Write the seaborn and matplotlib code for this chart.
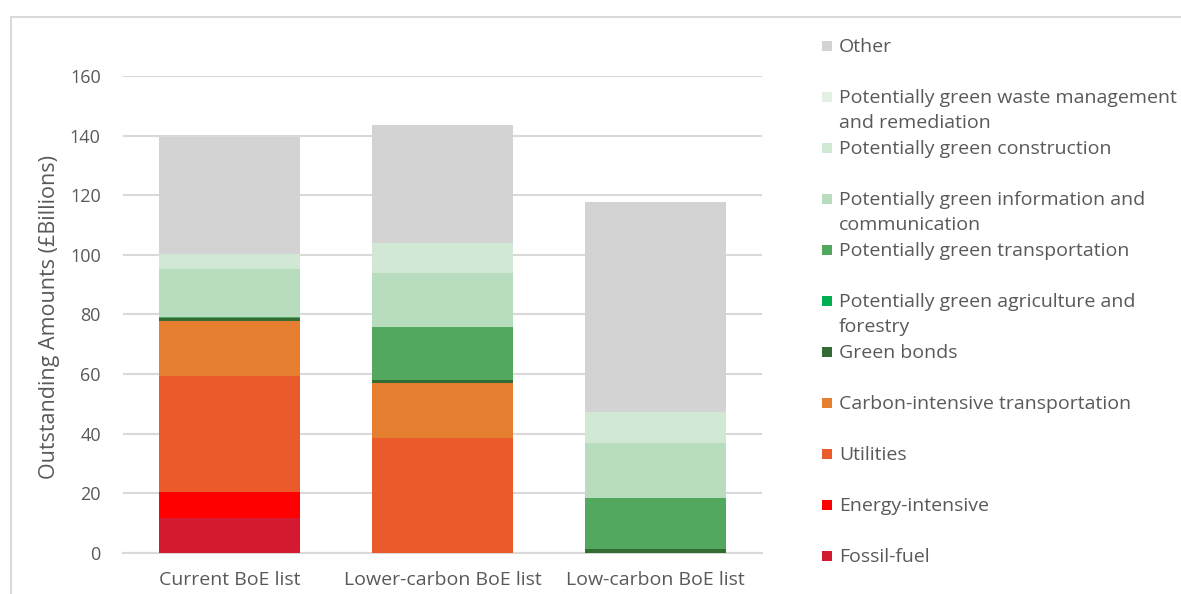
import matplotlib
matplotlib.use("Agg")
import matplotlib.pyplot as plt
from matplotlib.patches import Rectangle
import numpy as np
import pandas as pd
import seaborn as sns

# ---------------- data ----------------
categories = ["Current BoE list", "Lower-carbon BoE list", "Low-carbon BoE list"]

# stacking order, bottom -> top
series_names = [
    "Fossil-fuel",
    "Energy-intensive",
    "Utilities",
    "Carbon-intensive transportation",
    "Green bonds",
    "Potentially green agriculture and\nforestry",
    "Potentially green transportation",
    "Potentially green information and\ncommunication",
    "Potentially green construction",
    "Potentially green waste management\nand remediation",
    "Other",
]

fossil_fuel      = [11.5, 0.0, 0.0]
energy_intensive = [8.8, 0.0, 0.0]
utilities        = [39.1, 38.6, 0.0]
carbon_transport = [18.4, 18.3, 0.0]
green_bonds      = [1.0, 1.1, 1.3]
green_agri       = [0.0, 0.0, 0.0]
green_transport  = [0.4, 17.9, 17.2]
green_info       = [16.0, 18.1, 18.2]
green_constr     = [5.0, 10.1, 10.4]
green_waste      = [0.0, 0.0, 0.0]
other            = [39.2, 39.5, 70.7]

series_values = [fossil_fuel, energy_intensive, utilities, carbon_transport,
                 green_bonds, green_agri, green_transport, green_info,
                 green_constr, green_waste, other]

series_colors = ["#d41a30", "#ff0000", "#eb5a2a", "#e67e30", "#336b35",
                 "#00b050", "#52a85e", "#b8dcbe", "#d0e8d4", "#e3f1e5",
                 "#d3d3d3"]

y_ticks = [0, 20, 40, 60, 80, 100, 120, 140, 160]

# ---------------- style ----------------
sns.set_theme(style="white")
plt.rcParams["font.family"] = ["Open Sans", "DejaVu Sans"]
text_color = "#595959"
grid_color = "#d9d9d9"

W, H = 1181, 594
fig = plt.figure(figsize=(W / 100, H / 100), dpi=100)
ax = fig.add_axes([123 / W, 1 - 552.7 / H, (762 - 123) / W, (552.7 - 76) / H])

# outer chart frame
fig.patches.append(Rectangle((11 / W, -0.1), 1.2, 1 - 17 / H + 0.1,
                             transform=fig.transFigure, fill=False,
                             edgecolor=grid_color, linewidth=1.5, zorder=0))

# stacked bars via cumulative totals drawn largest first
df = pd.DataFrame({name: vals for name, vals in zip(series_names, series_values)},
                  index=categories)
cum = df.cumsum(axis=1)
for name, color in reversed(list(zip(series_names, series_colors))):
    sns.barplot(x=categories, y=cum[name].values, color=color, saturation=1,
                width=0.663, ax=ax, zorder=3, linewidth=0)

ax.set_xlim(-0.5, 2.5)
ax.set_ylim(0, 160)
ax.set_yticks(y_ticks)
ax.yaxis.grid(True, color=grid_color, linewidth=1.5, zorder=0)
ax.set_axisbelow(True)
for s in ["top", "right", "left"]:
    ax.spines[s].set_visible(False)
ax.spines["bottom"].set_color(grid_color)
ax.spines["bottom"].set_linewidth(1.5)
ax.spines["bottom"].set_zorder(2)

ax.tick_params(axis="both", length=0, colors=text_color)
ax.tick_params(axis="y", pad=16, labelsize=13)
ax.tick_params(axis="x", pad=13, labelsize=14)
ax.set_ylabel("Outstanding Amounts (£Billions)", fontsize=15.5, color=text_color)
ax.yaxis.set_label_coords(-0.099, 0.494)
ax.set_xlabel("")

# legend (top -> bottom, reverse of stacking), Excel-like equal spacing
leg_y0 = 46
leg_step = 51.0
for i, (name, color) in enumerate(zip(reversed(series_names), reversed(series_colors))):
    yc = leg_y0 + i * leg_step
    fig.patches.append(Rectangle((822 / W, 1 - (yc + 5) / H), 10 / W, 10 / H,
                                 transform=fig.transFigure, facecolor=color,
                                 edgecolor="none"))
    fig.text(839 / W, 1 - (yc - 8) / H, name, fontsize=14, color=text_color,
             ha="left", va="top", linespacing=1.5)

fig.savefig("out.png", dpi=100)
